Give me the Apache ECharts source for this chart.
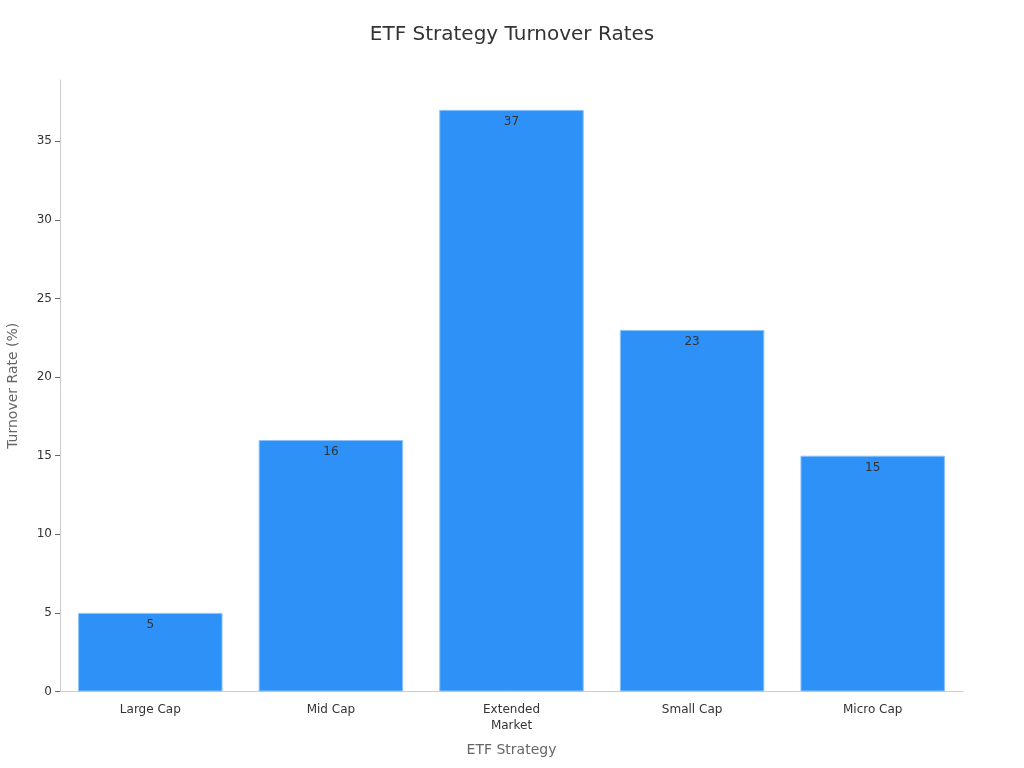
<!DOCTYPE html>
<html><head><meta charset="utf-8">
<script src="https://cdn.jsdelivr.net/npm/echarts@6/dist/echarts.min.js"></script>
<style>html,body{margin:0;padding:0;background:#fff}#c{width:1024px;height:768px}</style>
</head><body><div id="c"></div>
<script>
const categories = ["Large Cap", "Mid Cap", "Extended\nMarket", "Small Cap", "Micro Cap"];
const turnover = [5, 16, 37, 23, 15];
const yTicks = [0, 5, 10, 15, 20, 25, 30, 35];
const chart = echarts.init(document.getElementById('c'));
chart.setOption({
  animation: false,
  title: { text: "ETF Strategy Turnover Rates", left: 'center', top: 20,
    textStyle: { fontFamily: 'DejaVu Sans', fontSize: 20, fontWeight: 'normal', color: '#333' } },
  grid: { left: 60, right: 61, top: 80, bottom: 76.5, containLabel: false, outerBoundsMode: 'none' },
  xAxis: { type: 'category', data: categories, name: 'ETF Strategy', nameLocation: 'middle', nameGap: 52,
    nameTextStyle: { fontFamily: 'DejaVu Sans', fontSize: 14, color: '#666' },
    axisLine: { lineStyle: { color: '#ccc' } },
    axisTick: { alignWithLabel: true, length: 5, lineStyle: { color: '#666' } },
    axisLabel: { fontFamily: 'DejaVu Sans', fontSize: 12, color: '#333', interval: 0, margin: 10, lineHeight: 16 } },
  yAxis: { type: 'value', min: 0, max: 38.9, name: 'Turnover Rate (%)', nameLocation: 'middle', nameGap: 40,
    nameTextStyle: { fontFamily: 'DejaVu Sans', fontSize: 14, color: '#666' },
    axisLine: { show: true, lineStyle: { color: '#ccc' } },
    axisTick: { show: true, length: 5, customValues: yTicks, lineStyle: { color: '#666' } },
    splitLine: { show: false },
    axisLabel: { fontFamily: 'DejaVu Sans', fontSize: 12, color: '#333', customValues: yTicks } },
  series: [{ type: 'bar', data: turnover, barWidth: '80%',
    itemStyle: { color: '#2e91f8', borderColor: '#8cc4fb', borderWidth: 1 },
    label: { show: true, position: 'insideTop', distance: 6, color: '#333', fontFamily: 'DejaVu Sans', fontSize: 12 } }]
});
</script></body></html>
